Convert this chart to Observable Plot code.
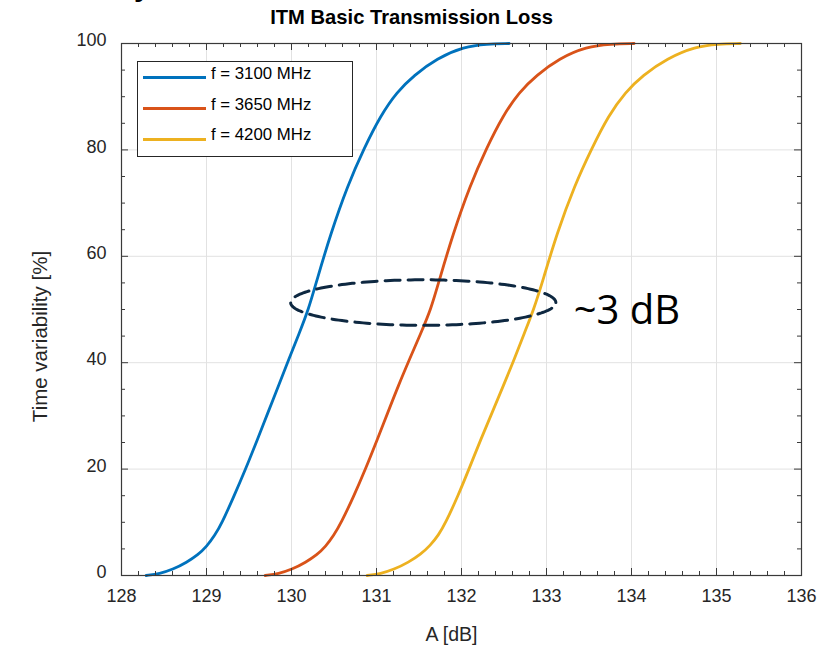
<!DOCTYPE html>
<html><head><meta charset="utf-8">
<script src="https://cdn.jsdelivr.net/npm/d3@7"></script>
<script src="https://cdn.jsdelivr.net/npm/@observablehq/plot@0.6"></script>
<style>
body{margin:0;background:#fff;}
#wrap{position:relative;width:831px;height:649px;overflow:hidden;background:#fff;}
#legend{position:absolute;left:137px;top:61px;width:216px;height:96px;border:1px solid #262626;background:#fff;box-sizing:border-box;font-family:"Liberation Sans",Arial,sans-serif;color:#000;}
#legend .sw{position:absolute;left:5px;width:63px;height:3px;}
#legend .lb{position:absolute;left:73px;font-size:16.8px;line-height:16px;white-space:nowrap;}
#cut{position:absolute;left:134px;top:-29.5px;font-family:"Liberation Sans",Arial,sans-serif;font-weight:bold;font-size:30px;line-height:30px;color:#000;}
</style></head>
<body><div id="wrap"><div id="cut">y</div></div>
<script>
// tick labels / values
const xTicks = [128, 129, 130, 131, 132, 133, 134, 135, 136];
const yTicks = [0, 20, 40, 60, 80, 100];
const seriesNames = ["f = 3100 MHz", "f = 3650 MHz", "f = 4200 MHz"];
const seriesColors = ["#0072BD", "#D95319", "#EDB120"];

// f = 3100 MHz
const blueA = [128.29,128.45,128.60,128.77,128.90,129.00,129.10,129.18,129.32,129.46,129.60,129.72,129.85,129.97,130.09,130.20,130.30,130.46,130.66,130.85,131.05,131.24,131.44,131.71,132.03,132.30,132.56];
const blueP = [0,0.35,1.1,2.5,3.9,5.4,7.6,9.8,14.8,20.0,25.6,30.5,35.8,40.7,45.5,50.0,55.6,64.2,73.3,80.2,86.5,90.9,94.0,97.2,99.4,99.9,100];
// f = 3650 MHz
const orangeA = [129.69,129.85,130.00,130.17,130.30,130.40,130.50,130.58,130.73,130.87,131.01,131.13,131.26,131.39,131.52,131.64,131.74,131.90,132.10,132.29,132.49,132.68,132.88,133.15,133.47,133.76,134.03];
const orangeP = [0,0.35,1.1,2.5,3.9,5.4,7.6,9.8,14.8,20.0,25.6,30.5,35.8,40.7,45.5,50.0,55.6,64.2,73.3,80.2,86.5,90.9,94.0,97.2,99.4,99.9,100];
// f = 4200 MHz
const yellowA = [130.89,131.05,131.20,131.38,131.52,131.63,131.73,131.81,131.96,132.09,132.23,132.36,132.49,132.62,132.74,132.85,132.96,133.12,133.33,133.53,133.73,133.93,134.13,134.42,134.75,135.02,135.28];
const yellowP = [0,0.35,1.1,2.5,4.0,5.6,7.6,9.8,15.0,20.1,25.7,30.6,35.6,40.6,45.6,50.0,55.6,64.2,73.3,80.2,86.5,90.9,94.0,97.2,99.4,99.9,100];

// annotation: dashed ellipse (center, radii in data units) and its label
const ellipseCenter = [131.55, 51.3];
const ellipseRadii = [1.56, 4.28];
const noteText = ["~3 dB"];
const notePos = [133.32, 49.6];

const titleText = "ITM Basic Transmission Loss";
const xLabel = "A [dB]";
const yLabel = "Time variability [%]";

const toRows = (A, P) => A.map((a, i) => ({A: a, P: P[i]}));
const series = [toRows(blueA, blueP), toRows(orangeA, orangeP), toRows(yellowA, yellowP)];

const ellipse = d3.range(0, 201).map(i => {
  const t = i / 200 * 2 * Math.PI;
  return {A: ellipseCenter[0] + ellipseRadii[0] * Math.cos(t), P: ellipseCenter[1] + ellipseRadii[1] * Math.sin(t)};
});

const xMinor = d3.range(128, 136.001, 0.2).map(v => +v.toFixed(1)).filter(v => !xTicks.includes(v));
const yMinor = d3.range(0, 101, 5).filter(v => !yTicks.includes(v));

const W = 831, H = 649, mL = 121, mR = 30, mT = 43, mB = 74;
const pxX = (136 - 128) / (W - mL - mR);   // data units per px
const pxY = 100 / (H - mT - mB);
const majLen = 7, minLen = 4;
const tickColor = "#3a3a3a";
const fontFam = "'Liberation Sans', Arial, Helvetica, sans-serif";

const plot = Plot.plot({
  width: W, height: H,
  marginLeft: mL, marginRight: mR, marginTop: mT, marginBottom: mB,
  x: {domain: [128, 136], axis: null},
  y: {domain: [0, 100], axis: null},
  style: {fontFamily: fontFam, background: "#fff", color: "#262626"},
  marks: [
    Plot.ruleX(xTicks, {stroke: "#e2e2e2", strokeWidth: 1}),
    Plot.ruleY(yTicks, {stroke: "#e2e2e2", strokeWidth: 1}),
    ...series.map((s, i) => Plot.line(s, {x: "A", y: "P", stroke: seriesColors[i], strokeWidth: 2.8, curve: "basis"})),
    Plot.line(ellipse, {x: "A", y: "P", stroke: "#0e2841", strokeWidth: 3, strokeDasharray: "15,8"}),
    // ticks, inward on all four sides
    Plot.ruleX(xTicks, {x: d => d, y1: 0, y2: majLen * pxY, stroke: tickColor}),
    Plot.ruleX(xMinor, {x: d => d, y1: 0, y2: minLen * pxY, stroke: tickColor}),
    Plot.ruleX(xTicks, {x: d => d, y1: 100, y2: 100 - majLen * pxY, stroke: tickColor}),
    Plot.ruleX(xMinor, {x: d => d, y1: 100, y2: 100 - minLen * pxY, stroke: tickColor}),
    Plot.ruleY(yTicks, {y: d => d, x1: 128, x2: 128 + majLen * pxX, stroke: tickColor}),
    Plot.ruleY(yMinor, {y: d => d, x1: 128, x2: 128 + minLen * pxX, stroke: tickColor}),
    Plot.ruleY(yTicks, {y: d => d, x1: 136, x2: 136 - majLen * pxX, stroke: tickColor}),
    Plot.ruleY(yMinor, {y: d => d, x1: 136, x2: 136 - minLen * pxX, stroke: tickColor}),
    Plot.frame({stroke: "#3a3a3a", strokeWidth: 1.2}),
    // tick labels
    Plot.text(xTicks, {x: d => d, frameAnchor: "bottom", dy: 21, textAnchor: "middle", lineAnchor: "middle", fontSize: 18, fill: "#262626"}),
    Plot.text(yTicks, {y: d => d, frameAnchor: "left", dx: -15, dy: -3, textAnchor: "end", lineAnchor: "middle", fontSize: 18, fill: "#262626"}),
    // title & axis labels
    Plot.text([titleText], {frameAnchor: "top", dx: -50, dy: -20, textAnchor: "middle", lineAnchor: "bottom", fontSize: 20.2, fontWeight: "bold", fill: "#000"}),
    Plot.text([xLabel], {frameAnchor: "bottom", dx: -10, dy: 65, textAnchor: "middle", lineAnchor: "bottom", fontSize: 19.5, fill: "#262626"}),
    Plot.text([yLabel], {frameAnchor: "left", dx: -81, dy: 27, rotate: -90, textAnchor: "middle", lineAnchor: "middle", fontSize: 20.5, fill: "#262626"}),
    // annotation label
    Plot.text(noteText, {x: () => notePos[0], y: () => notePos[1], textAnchor: "start", lineAnchor: "middle", fontSize: 40, fontFamily: "'Open Sans', sans-serif", fill: "#000"})
  ]
});
const wrap = document.getElementById("wrap");
wrap.insertBefore(plot, wrap.firstChild);
plot.style.position = "absolute"; plot.style.left = "0px"; plot.style.top = "0px";

// legend (HTML overlay)
const legend = document.createElement("div");
legend.id = "legend";
const lineYs = [77.7, 108.5, 139];
seriesNames.forEach((name, i) => {
  const sw = document.createElement("div");
  sw.className = "sw";
  sw.style.background = seriesColors[i];
  sw.style.top = (lineYs[i] - 62 - 1.5) + "px";
  legend.appendChild(sw);
  const lb = document.createElement("div");
  lb.className = "lb";
  lb.textContent = name;
  lb.style.top = (lineYs[i] + 1.5 - 62 - 13.5) + "px";
  legend.appendChild(lb);
});
wrap.appendChild(legend);
wrap.appendChild(document.getElementById("cut"));
</script>
</body></html>
